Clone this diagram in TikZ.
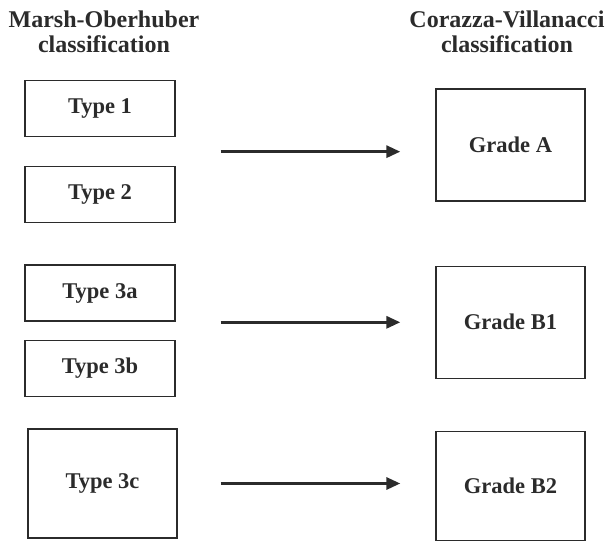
\documentclass[tikz,border=0pt]{standalone}
\usepackage{fontspec}
\setmainfont{Liberation Serif}
\usetikzlibrary{positioning}
\usetikzlibrary{arrows.meta}
\usetikzlibrary{calc}

\definecolor{inkgray}{HTML}{2B2B2B}

\begin{document}
\begin{tikzpicture}[x=1pt,y=-1pt,
  typebox/.style={draw=inkgray,line width=1.3pt,minimum width=150pt,minimum height=56pt,inner sep=0pt,font=\fontsize{22.5}{24}\selectfont\bfseries,text=inkgray},
  gradebox/.style={typebox,minimum width=149pt,minimum height=112pt},
  heading/.style={align=center,font=\fontsize{24}{25}\selectfont\bfseries,text=inkgray,inner sep=0pt,anchor=north},
  maps/.style={-{Triangle[length=14pt,width=12pt]},line width=3pt,draw=inkgray}]
  \useasboundingbox (0,0) rectangle (611,541);

  %headings
  \node[heading] (mo) at (104,11) {Marsh-Oberhuber\\classification};
  \node[heading] (cv) at (507,11) {Corazza-Villanacci\\classification};

  %left
  \node[typebox] (t1) at (100,108.5) {Type 1};
  \node[typebox,below=29pt of t1] (t2) {Type 2};
  \node[typebox,below=41pt of t2] (t3a) {Type 3a};
  \node[typebox,below=18pt of t3a] (t3b) {Type 3b};
  \node[typebox,minimum width=149pt,minimum height=109pt] (t3c) at (102.5,483.5) {Type 3c};

  %right
  \node[gradebox] (ga) at (510.5,145) {Grade A};
  \node[gradebox,below=64pt of ga] (gb1) {Grade B1};
  \node[gradebox,minimum height=109pt,below=52pt of gb1] (gb2) {Grade B2};

  %arrows
  \coordinate (m1) at ($(t1.south east)!.5!(t2.north east)$);
  \draw[maps,shorten <=45pt,shorten >=35pt] (m1) -- (m1 -| ga.west);
  \draw[maps,shorten <=45pt,shorten >=35pt] (gb1.west -| t3a.east) -- (gb1.west);
  \draw[maps,shorten <=43pt,shorten >=35pt] (t3c.east) -- (t3c.east -| gb2.west);
\end{tikzpicture}
\end{document}
